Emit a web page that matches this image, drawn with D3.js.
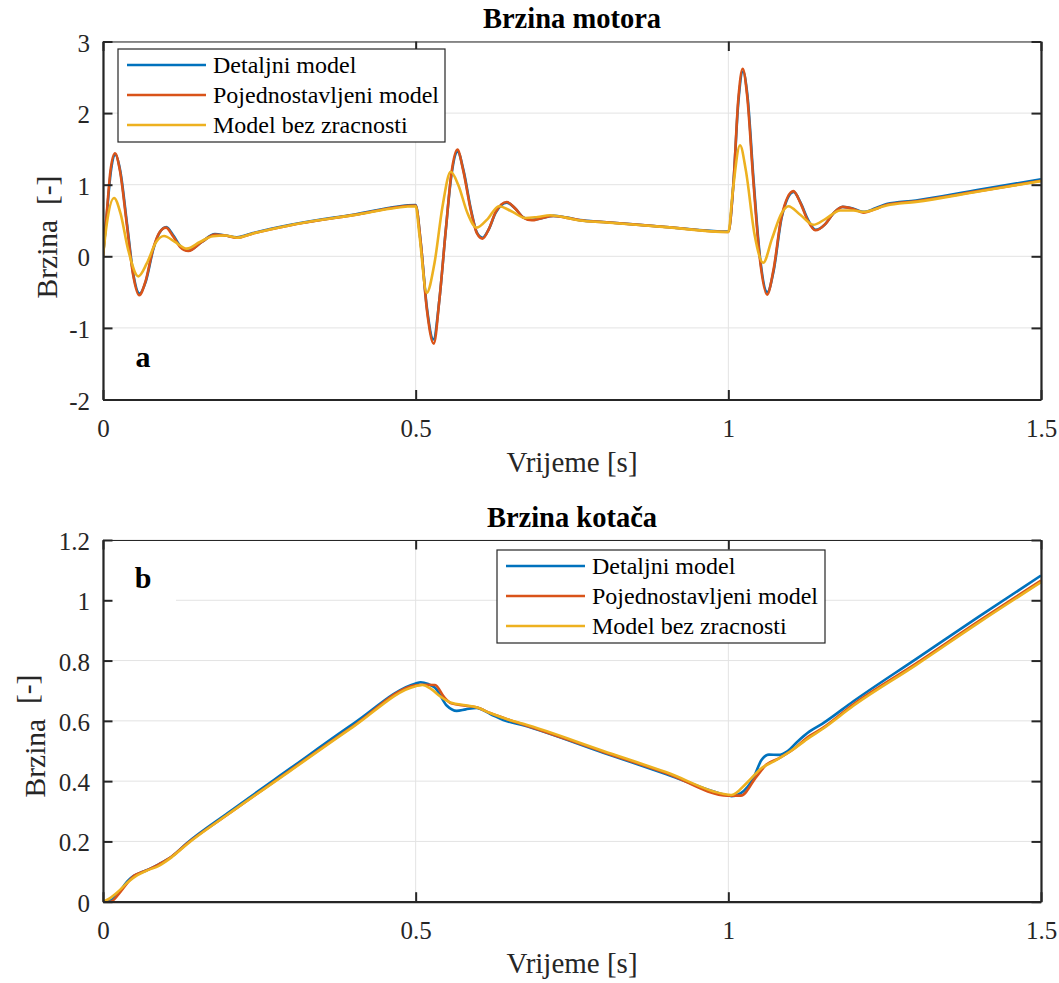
<!DOCTYPE html>
<html>
<head>
<meta charset="utf-8">
<script src="https://cdn.jsdelivr.net/npm/d3@7"></script>
<style>
  html, body { margin: 0; padding: 0; background: #fff; }
  svg { display: block; }
</style>
</head>
<body>
<svg id="chart" width="1059" height="983"></svg>
<script>
// ---------------- DATA ----------------
const seriesNames = ["Detaljni model", "Pojednostavljeni model", "Model bez zracnosti"];
const seriesColors = ["#0072BD", "#D95319", "#EDB120"];

const xTicks = [0, 0.5, 1, 1.5];
const xTickLabels = ["0", "0.5", "1", "1.5"];
const yTicksTop = [-2, -1, 0, 1, 2, 3];
const yTickLabelsTop = ["-2", "-1", "0", "1", "2", "3"];
const yTicksBottom = [0, 0.2, 0.4, 0.6, 0.8, 1, 1.2];
const yTickLabelsBottom = ["0", "0.2", "0.4", "0.6", "0.8", "1", "1.2"];

// Top panel (a): motor speed
const motorDetailT = [0, 0.006, 0.0125, 0.0198, 0.0275, 0.0385, 0.0485, 0.0585, 0.0685, 0.0805, 0.0905, 0.1013, 0.1125, 0.124, 0.137, 0.158, 0.179, 0.196, 0.214, 0.24, 0.267, 0.3, 0.4, 0.5,
  0.508, 0.518, 0.5285, 0.538, 0.548, 0.557, 0.5672, 0.5765, 0.5885, 0.598, 0.607, 0.617, 0.628, 0.6458, 0.66, 0.672, 0.6858, 0.70, 0.72, 0.74, 0.763, 0.8, 0.9, 1.0,
  1.008, 1.016, 1.0235, 1.0305, 1.0405, 1.0505, 1.0625, 1.0725, 1.0855, 1.1045, 1.1155, 1.1275, 1.1395, 1.155, 1.168, 1.183, 1.2, 1.216, 1.235, 1.253, 1.3, 1.4, 1.5];
const motorDetailV = [0, 0.58, 1.18, 1.42, 1.2, 0.45, -0.25, -0.52, -0.35, 0.1, 0.33, 0.41, 0.29, 0.14, 0.08, 0.2, 0.31, 0.29, 0.265, 0.325, 0.38, 0.44, 0.58, 0.715,
  0.2, -0.72, -1.16, -0.6, 0.35, 1.12, 1.46, 1.2, 0.65, 0.33, 0.26, 0.38, 0.61, 0.75, 0.66, 0.545, 0.51, 0.53, 0.565, 0.545, 0.505, 0.48, 0.41, 0.345,
  1.0, 2.15, 2.58, 2.25, 1.05, 0.0, -0.50, -0.2, 0.55, 0.90, 0.75, 0.51, 0.37, 0.45, 0.6, 0.69, 0.665, 0.62, 0.67, 0.73, 0.78, 0.93, 1.075];

const motorSimpleT = [0, 0.006, 0.012, 0.0192, 0.027, 0.038, 0.048, 0.058, 0.068, 0.08, 0.09, 0.1008, 0.112, 0.1235, 0.1365, 0.158, 0.179, 0.195, 0.214, 0.24, 0.267, 0.3, 0.4, 0.5,
  0.508, 0.518, 0.529, 0.538, 0.548, 0.557, 0.5667, 0.576, 0.588, 0.598, 0.607, 0.617, 0.628, 0.6456, 0.66, 0.672, 0.6856, 0.70, 0.72, 0.74, 0.763, 0.8, 0.9, 1.0,
  1.008, 1.016, 1.023, 1.03, 1.04, 1.05, 1.062, 1.072, 1.085, 1.104, 1.115, 1.127, 1.139, 1.155, 1.168, 1.183, 1.2, 1.216, 1.235, 1.253, 1.3, 1.4, 1.5];
const motorSimpleV = [0, 0.6, 1.2, 1.44, 1.2, 0.45, -0.25, -0.545, -0.35, 0.1, 0.33, 0.40, 0.28, 0.13, 0.074, 0.2, 0.305, 0.29, 0.26, 0.32, 0.375, 0.435, 0.575, 0.71,
  0.2, -0.75, -1.22, -0.6, 0.35, 1.15, 1.49, 1.2, 0.65, 0.32, 0.247, 0.38, 0.62, 0.758, 0.66, 0.54, 0.503, 0.53, 0.563, 0.54, 0.503, 0.478, 0.409, 0.34,
  1.0, 2.2, 2.62, 2.25, 1.05, 0.0, -0.535, -0.2, 0.55, 0.91, 0.75, 0.5, 0.363, 0.45, 0.6, 0.69, 0.66, 0.61, 0.66, 0.72, 0.77, 0.91, 1.055];

const motorNoBacklashT = [0, 0.006, 0.0176, 0.028, 0.04, 0.0565, 0.07, 0.085, 0.0976, 0.115, 0.134, 0.155, 0.176, 0.195, 0.214, 0.24, 0.267, 0.3, 0.4, 0.5,
  0.506, 0.5176, 0.53, 0.543, 0.556, 0.568, 0.583, 0.5975, 0.615, 0.633, 0.655, 0.675, 0.695, 0.715, 0.74, 0.763, 0.8, 0.9, 1.0,
  1.007, 1.0187, 1.028, 1.042, 1.0558, 1.07, 1.085, 1.096, 1.115, 1.136, 1.155, 1.179, 1.2, 1.216, 1.253, 1.3, 1.4, 1.5];
const motorNoBacklashV = [0, 0.45, 0.815, 0.6, 0.1, -0.28, -0.1, 0.2, 0.284, 0.2, 0.107, 0.2, 0.28, 0.29, 0.26, 0.32, 0.375, 0.435, 0.575, 0.70,
  0.3, -0.51, -0.1, 0.7, 1.18, 1.0, 0.6, 0.40, 0.52, 0.70, 0.62, 0.535, 0.55, 0.573, 0.54, 0.5, 0.476, 0.407, 0.34,
  0.9, 1.55, 1.2, 0.3, -0.09, 0.25, 0.6, 0.70, 0.58, 0.44, 0.52, 0.64, 0.64, 0.62, 0.71, 0.76, 0.905, 1.05];

// Bottom panel (b): wheel speed
const wheelDetailT = [0, 0.01, 0.025, 0.04, 0.0485, 0.065, 0.09, 0.11, 0.134, 0.2, 0.3, 0.4, 0.5, 0.508, 0.52, 0.531, 0.55, 0.5656, 0.58, 0.597, 0.62, 0.64, 0.672, 0.8, 0.9, 1.0,
  1.005, 1.02, 1.04, 1.053, 1.065, 1.08, 1.095, 1.11, 1.13, 1.15, 1.2, 1.3, 1.4, 1.5];
const wheelDetailV = [0, 0.002, 0.03, 0.07, 0.085, 0.1, 0.125, 0.15, 0.194, 0.295, 0.443, 0.59, 0.724, 0.728, 0.722, 0.71, 0.65, 0.633, 0.638, 0.643, 0.622, 0.603, 0.585, 0.494, 0.424, 0.352,
  0.35, 0.36, 0.41, 0.47, 0.488, 0.487, 0.5, 0.53, 0.565, 0.59, 0.665, 0.805, 0.945, 1.082];

const wheelSimpleT = [0, 0.012, 0.025, 0.04, 0.05, 0.065, 0.09, 0.11, 0.134, 0.2, 0.3, 0.4, 0.5, 0.51, 0.531, 0.545, 0.557, 0.58, 0.597, 0.62, 0.65, 0.672, 0.8, 0.9, 1.0,
  1.02, 1.045, 1.061, 1.08, 1.1, 1.13, 1.15, 1.2, 1.3, 1.4, 1.5];
const wheelSimpleV = [0, 0.0, 0.025, 0.065, 0.087, 0.1, 0.125, 0.15, 0.192, 0.29, 0.437, 0.582, 0.718, 0.72, 0.719, 0.68, 0.658, 0.65, 0.645, 0.625, 0.603, 0.588, 0.497, 0.427, 0.352,
  0.352, 0.415, 0.455, 0.475, 0.5, 0.55, 0.575, 0.655, 0.79, 0.93, 1.065];

const wheelNoBacklashT = [0, 0.01, 0.025, 0.04, 0.055, 0.07, 0.09, 0.11, 0.134, 0.2, 0.3, 0.4, 0.5, 0.511, 0.525, 0.54, 0.557, 0.58, 0.597, 0.62, 0.65, 0.672, 0.8, 0.9, 1.0,
  1.005, 1.029, 1.053, 1.075, 1.1, 1.13, 1.15, 1.2, 1.3, 1.4, 1.5];
const wheelNoBacklashV = [0, 0.01, 0.035, 0.065, 0.088, 0.103, 0.12, 0.148, 0.19, 0.29, 0.435, 0.58, 0.715, 0.719, 0.705, 0.68, 0.66, 0.652, 0.645, 0.625, 0.603, 0.59, 0.5, 0.43, 0.355,
  0.354, 0.393, 0.443, 0.468, 0.5, 0.545, 0.572, 0.65, 0.785, 0.925, 1.06];

// ---------------- DRAWING ----------------
const FONT = "'Liberation Serif', Tinos, 'Times New Roman', 'DejaVu Serif', serif";
const svg = d3.select("#chart").attr("font-family", FONT);
const axisColor = "#262626";
const gridColor = "#e3e3e3";
const plotLeft = 103, plotRight = 1041;

const x = d3.scaleLinear().domain([0, 1.5]).range([plotLeft, plotRight]);

function zip(t, v) { return t.map((tt, i) => [tt, v[i]]); }

function drawPanel(cfg) {
  const y = d3.scaleLinear().domain(cfg.yDomain).range([cfg.bottom, cfg.top]);
  const g = svg.append("g");
  const clipId = "clip" + cfg.id;
  svg.append("clipPath").attr("id", clipId).append("rect")
    .attr("x", plotLeft).attr("y", cfg.top).attr("width", plotRight - plotLeft).attr("height", cfg.bottom - cfg.top);

  // grid
  g.append("g").selectAll("line").data(cfg.xTicks).join("line")
    .attr("x1", d => x(d)).attr("x2", d => x(d)).attr("y1", cfg.top).attr("y2", cfg.bottom)
    .attr("stroke", gridColor).attr("stroke-width", 1);
  g.append("g").selectAll("line").data(cfg.yTicks).join("line")
    .attr("x1", plotLeft).attr("x2", plotRight).attr("y1", d => y(d)).attr("y2", d => y(d))
    .attr("stroke", gridColor).attr("stroke-width", 1);

  // panel letter box (white background)
  g.append("rect").attr("x", plotLeft + 1).attr("y", cfg.letterBoxTop).attr("width", 72).attr("height", 62).attr("fill", "#fff");
  g.append("text").attr("x", 143).attr("y", cfg.letterBaseline).attr("text-anchor", "middle")
    .attr("font-family", FONT).attr("font-size", 30).attr("font-weight", "bold").attr("fill", "#000").text(cfg.letter);

  // lines
  const line = d3.line().x(d => x(d[0])).y(d => y(d[1])).curve(d3.curveMonotoneX);
  const lg = g.append("g").attr("clip-path", `url(#${clipId})`);
  cfg.series.forEach((s, i) => {
    lg.append("path").datum(s).attr("d", line).attr("fill", "none")
      .attr("stroke", seriesColors[i]).attr("stroke-width", 2.6).attr("stroke-linejoin", "round");
  });

  // axes via d3 axis generators (inner ticks)
  const tickLen = 9.5;
  const axB = d3.axisBottom(x).tickValues(cfg.xTicks).tickFormat((d, i) => cfg.xLabels[i]).tickSizeInner(-tickLen).tickSizeOuter(0);
  const axT = d3.axisTop(x).tickValues(cfg.xTicks).tickFormat("").tickSizeInner(-tickLen).tickSizeOuter(0);
  const axL = d3.axisLeft(y).tickValues(cfg.yTicks).tickFormat((d, i) => cfg.yLabels[i]).tickSizeInner(-tickLen).tickSizeOuter(0);
  const axR = d3.axisRight(y).tickValues(cfg.yTicks).tickFormat("").tickSizeInner(-tickLen).tickSizeOuter(0);

  function style(sel, w) {
    sel.attr("font-family", FONT);
    sel.select(".domain").attr("stroke", axisColor).attr("stroke-width", w);
    sel.selectAll(".tick line").attr("stroke", axisColor).attr("stroke-width", 2);
    sel.selectAll(".tick text").attr("fill", axisColor).attr("font-size", 25).attr("font-family", FONT);
  }
  const gB = g.append("g").attr("transform", `translate(0,${cfg.bottom})`).call(axB); style(gB, 2.2);
  const gT = g.append("g").attr("transform", `translate(0,${cfg.top})`).call(axT); style(gT, 1.2);
  const gL = g.append("g").attr("transform", `translate(${plotLeft},0)`).call(axL); style(gL, 2.2);
  const gR = g.append("g").attr("transform", `translate(${plotRight},0)`).call(axR); style(gR, 2.2);
  gB.selectAll(".tick text").attr("dy", null).attr("y", 37);
  gL.selectAll(".tick text").attr("x", -13).attr("dy", "0.38em");

  // title
  svg.append("text").attr("x", (plotLeft + plotRight) / 2).attr("y", cfg.titleBaseline).attr("text-anchor", "middle")
    .attr("font-family", FONT).attr("font-size", 28.5).attr("font-weight", "bold").attr("fill", "#000").text(cfg.title);

  // x label
  svg.append("text").attr("x", (plotLeft + plotRight) / 2).attr("y", cfg.xLabelBaseline).attr("text-anchor", "middle")
    .attr("font-family", FONT).attr("font-size", 29).attr("fill", axisColor).text("Vrijeme [s]");

  // y label
  const yl = svg.append("text").attr("transform", `translate(${cfg.yLabelX},${cfg.yLabelY}) rotate(-90)`)
    .attr("text-anchor", "middle").attr("font-family", FONT).attr("font-size", 29.5).attr("fill", axisColor)
    .attr("xml:space", "preserve");
  yl.append("tspan").text("Brzina  ");
  yl.append("tspan").attr("dy", cfg.yLabelShift).text("[-]");

  // legend
  const L = cfg.legend;
  const lgd = svg.append("g");
  lgd.append("rect").attr("x", L.x).attr("y", L.y).attr("width", L.w).attr("height", L.h)
    .attr("fill", "#fff").attr("stroke", axisColor).attr("stroke-width", 1.2);
  seriesNames.forEach((name, i) => {
    const cy = L.y + 16 + i * 30;
    lgd.append("line").attr("x1", L.x + 9).attr("x2", L.x + 88).attr("y1", cy).attr("y2", cy)
      .attr("stroke", seriesColors[i]).attr("stroke-width", 2.6);
    lgd.append("text").attr("x", L.x + 95).attr("y", cy + 8).attr("font-family", FONT).attr("font-size", 24)
      .attr("fill", "#000").text(name);
  });
}

drawPanel({
  id: "a", top: 41.5, bottom: 399.5, yDomain: [-2, 3],
  xTicks: xTicks, xLabels: xTickLabels, yTicks: yTicksTop, yLabels: yTickLabelsTop,
  series: [zip(motorDetailT, motorDetailV), zip(motorSimpleT, motorSimpleV), zip(motorNoBacklashT, motorNoBacklashV)],
  title: "Brzina motora", titleBaseline: 28, xLabelBaseline: 472,
  yLabelX: 57, yLabelY: 237, yLabelShift: 0,
  letter: "a", letterBaseline: 367, letterBoxTop: 332,
  legend: { x: 118, y: 49, w: 327, h: 93 }
});

drawPanel({
  id: "b", top: 540, bottom: 901.7, yDomain: [0, 1.2],
  xTicks: xTicks, xLabels: xTickLabels, yTicks: yTicksBottom, yLabels: yTickLabelsBottom,
  series: [zip(wheelDetailT, wheelDetailV), zip(wheelSimpleT, wheelSimpleV), zip(wheelNoBacklashT, wheelNoBacklashV)],
  title: "Brzina kotača", titleBaseline: 527, xLabelBaseline: 973,
  yLabelX: 45, yLabelY: 736, yLabelShift: -8,
  letter: "b", letterBaseline: 588, letterBoxTop: 556,
  legend: { x: 497, y: 550, w: 328, h: 93 }
});
</script>
</body>
</html>
